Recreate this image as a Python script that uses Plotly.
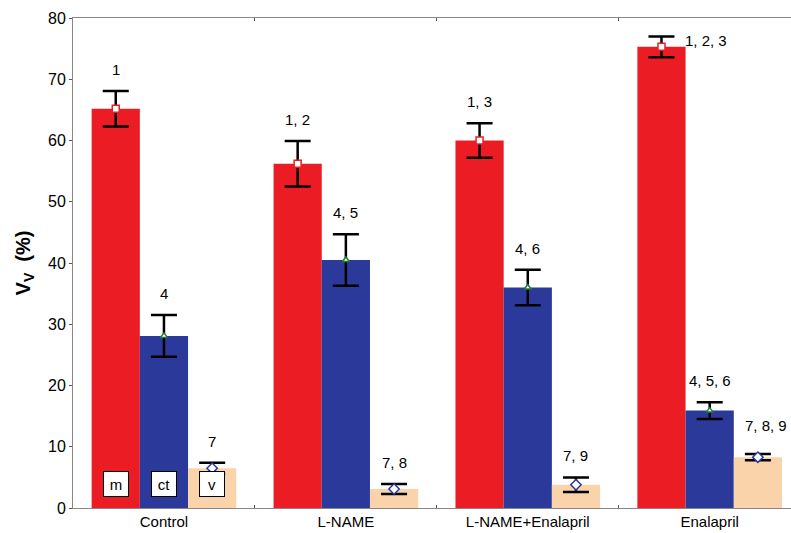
import plotly.graph_objects as go

groups = ["Control", "L-NAME", "L-NAME+Enalapril", "Enalapril"]
series_names = ["m", "ct", "v"]
m_vals = [65.2, 56.2, 60.0, 75.3]
m_err = [2.9, 3.7, 2.8, 1.7]
ct_vals = [28.1, 40.5, 36.0, 15.9]
ct_err = [3.4, 4.2, 2.9, 1.35]
v_vals = [6.5, 3.1, 3.8, 8.3]
v_err = [0.9, 0.8, 1.2, 0.5]
m_labels = ["1", "1, 2", "1, 3", "1, 2, 3"]
ct_labels = ["4", "4, 5", "4, 6", "4, 5, 6"]
v_labels = ["7", "7, 8", "7, 9", "7, 8, 9"]
y_ticks = [0, 10, 20, 30, 40, 50, 60, 70, 80]

colors = ["#EC1C24", "#2B3A9A", "#FBD3AA"]
marker_syms = ["square", "triangle-up", "diamond"]
marker_lines = ["#EC1C24", "#1E7A3A", "#2B3A9A"]
marker_sizes = [7, 6, 8]

vals = [m_vals, ct_vals, v_vals]
errs = [m_err, ct_err, v_err]
labels = [m_labels, ct_labels, v_labels]

bargap = 0.205
bw = (1 - bargap) / 3
offsets = [-bw, 0, bw]

FAM = "Liberation Sans, Arial, sans-serif"

fig = go.Figure()
for k in range(3):
    fig.add_trace(go.Bar(
        x=groups, y=vals[k], name=series_names[k], offsetgroup=str(k),
        marker=dict(color=colors[k], line=dict(width=0)),
        error_y=dict(type="data", array=errs[k], color="black", thickness=2.5, width=13),
        showlegend=False,
    ))
for k in range(3):
    fig.add_trace(go.Scatter(
        x=groups, y=vals[k], mode="markers", offsetgroup=str(k),
        marker=dict(symbol=marker_syms[k], size=marker_sizes[k], color="white",
                    line=dict(color=marker_lines[k], width=1.5)),
        showlegend=False, hoverinfo="skip",
    ))

font_txt = dict(family=FAM, size=15, color="black")
annotations = []
for k in range(3):
    for i in range(4):
        top = vals[k][i] + errs[k][i]
        if k == 0 and i == 3:
            annotations.append(dict(x=i + offsets[k], y=vals[k][i], text=labels[k][i],
                                    xanchor="left", yanchor="middle", xshift=22, yshift=6,
                                    showarrow=False, font=font_txt))
        elif k == 2 and i == 3:
            annotations.append(dict(x=i + offsets[k], y=top, text=labels[k][i],
                                    xanchor="center", yanchor="bottom", xshift=8, yshift=18,
                                    showarrow=False, font=font_txt))
        else:
            annotations.append(dict(x=i + offsets[k], y=top, text=labels[k][i],
                                    xanchor="center", yanchor="bottom", yshift=11,
                                    showarrow=False, font=font_txt))
    annotations.append(dict(x=0 + offsets[k], y=0, text=series_names[k],
                            xanchor="center", yanchor="bottom", yshift=11,
                            showarrow=False, font=font_txt, bgcolor="white",
                            bordercolor="black", borderwidth=1, width=22, height=22, borderpad=1))

fig.update_layout(
    width=791, height=533,
    margin=dict(l=73, r=0, t=18, b=25),
    plot_bgcolor="white", paper_bgcolor="white",
    barmode="group", bargap=bargap, bargroupgap=0,
    scattermode="group", scattergap=bargap,
    annotations=annotations,
    font=font_txt,
)
fig.update_xaxes(
    range=[-0.5, 3.447], showgrid=False, showline=True, linecolor="#888888", linewidth=1,
    mirror="ticks", ticks="inside", tickson="boundaries", ticklen=3, tickcolor="#555555",
    tickfont=dict(family=FAM, size=15, color="black"),
)
fig.update_yaxes(
    range=[0, 80], tickvals=y_ticks, showgrid=False, showline=True, linecolor="#888888",
    linewidth=1, ticks="outside", ticklen=3, tickcolor="#555555", zeroline=False,
    tickfont=dict(family=FAM, size=16, color="black"),
    title=dict(text="<b>V<sub>V</sub>  (%)</b>", font=dict(family=FAM, size=20, color="black"), standoff=12),
)
fig.write_html("out.html")
